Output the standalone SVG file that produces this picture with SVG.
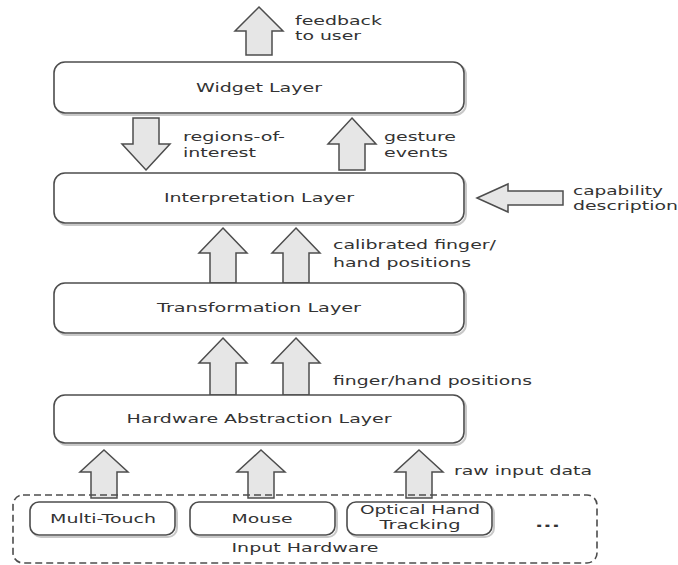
<svg xmlns="http://www.w3.org/2000/svg" width="678" height="565" viewBox="0 0 678 565">
<defs>
<style>
.box{fill:#fff;stroke:#4d4d4d;stroke-width:1.6}
.shadow{fill:none;stroke:#c8c8c8;stroke-width:2}
.dash{fill:none;stroke:#4d4d4d;stroke-width:1.6;stroke-dasharray:7,4}
.arr{fill:#e6e6e6;stroke:#4d4d4d;stroke-width:1.5;stroke-linejoin:miter}
text{font-family:"DejaVu Sans","Liberation Sans",sans-serif;font-size:12.5px;fill:#333}
.c{text-anchor:middle}
</style>
</defs>
<rect width="678" height="565" fill="#fff"/>

<g id="connectors">
<polygon class="arr" points="259,7 283,31 272,31 272,55 246,55 246,31 235,31"/>
<polygon class="arr" points="146,170 170,144 159,144 159,118 133,118 133,144 122,144"/>
<polygon class="arr" points="352,118 376,144 365,144 365,170 339,170 339,144 328,144"/>
<polygon class="arr" points="477,198 508,184 508,191 563,191 563,205 508,205 508,212"/>
<polygon class="arr" points="223,228 247,253 236,253 236,283 210,283 210,253 199,253"/>
<polygon class="arr" points="296,228 320,253 309,253 309,283 283,283 283,253 272,253"/>
<polygon class="arr" points="223,338 247,363 236,363 236,395 210,395 210,363 199,363"/>
<polygon class="arr" points="296,338 320,363 309,363 309,395 283,395 283,363 272,363"/>
<polygon class="arr" points="104,450 128,472 117,472 117,498 91,498 91,472 80,472"/>
<polygon class="arr" points="261,450 285,472 274,472 274,498 248,498 248,472 237,472"/>
<polygon class="arr" points="419,450 443,472 432,472 432,498 406,498 406,472 395,472"/>
<text x="295" y="25" textLength="87" lengthAdjust="spacingAndGlyphs">feedback</text>
<text x="295" y="40" textLength="66" lengthAdjust="spacingAndGlyphs">to user</text>
<text x="183" y="141" textLength="102" lengthAdjust="spacingAndGlyphs">regions-of-</text>
<text x="183" y="157" textLength="73" lengthAdjust="spacingAndGlyphs">interest</text>
<text x="384" y="141" textLength="72" lengthAdjust="spacingAndGlyphs">gesture</text>
<text x="384" y="157" textLength="64" lengthAdjust="spacingAndGlyphs">events</text>
<text x="573" y="195" textLength="90" lengthAdjust="spacingAndGlyphs">capability</text>
<text x="573" y="210" textLength="105" lengthAdjust="spacingAndGlyphs">description</text>
<text x="333" y="249" textLength="163" lengthAdjust="spacingAndGlyphs">calibrated finger/</text>
<text x="333" y="267" textLength="138" lengthAdjust="spacingAndGlyphs">hand positions</text>
<text x="333" y="385" textLength="199" lengthAdjust="spacingAndGlyphs">finger/hand positions</text>
<text x="454" y="475" textLength="138" lengthAdjust="spacingAndGlyphs">raw input data</text>
</g>

<g id="widget-layer">
<rect class="shadow" x="56" y="64" width="410" height="51" rx="11"/>
<rect class="box" x="54" y="62" width="410" height="51" rx="11"/>
<text class="c" x="259" y="92" textLength="126" lengthAdjust="spacingAndGlyphs">Widget Layer</text>
</g>

<g id="interpretation-layer">
<rect class="shadow" x="56" y="175" width="410" height="50" rx="11"/>
<rect class="box" x="54" y="173" width="410" height="50" rx="11"/>
<text class="c" x="259" y="202" textLength="190" lengthAdjust="spacingAndGlyphs">Interpretation Layer</text>
</g>

<g id="transformation-layer">
<rect class="shadow" x="56" y="285" width="410" height="50" rx="11"/>
<rect class="box" x="54" y="283" width="410" height="50" rx="11"/>
<text class="c" x="259" y="312" textLength="204" lengthAdjust="spacingAndGlyphs">Transformation Layer</text>
</g>

<g id="hardware-abstraction-layer">
<rect class="shadow" x="56" y="397" width="410" height="48" rx="11"/>
<rect class="box" x="54" y="395" width="410" height="48" rx="11"/>
<text class="c" x="259" y="423" textLength="265" lengthAdjust="spacingAndGlyphs">Hardware Abstraction Layer</text>
</g>

<g id="input-hardware">
<rect class="dash" x="13" y="495" width="584" height="68" rx="10"/>
<text class="c" x="305" y="552" textLength="147" lengthAdjust="spacingAndGlyphs">Input Hardware</text>
<g id="multi-touch">
<rect class="shadow" x="32" y="504" width="145" height="33" rx="9"/>
<rect class="box" x="30" y="502" width="145" height="33" rx="9"/>
<text class="c" x="103" y="523" textLength="106" lengthAdjust="spacingAndGlyphs">Multi-Touch</text>
</g>
<g id="mouse">
<rect class="shadow" x="192" y="504" width="145" height="33" rx="9"/>
<rect class="box" x="190" y="502" width="145" height="33" rx="9"/>
<text class="c" x="262" y="523" textLength="61" lengthAdjust="spacingAndGlyphs">Mouse</text>
</g>
<g id="optical-hand-tracking">
<rect class="shadow" x="349" y="504" width="145" height="33" rx="9"/>
<rect class="box" x="347" y="502" width="145" height="33" rx="9"/>
<text class="c" x="420" y="514" textLength="120" lengthAdjust="spacingAndGlyphs">Optical Hand</text>
<text class="c" x="420" y="529" textLength="81" lengthAdjust="spacingAndGlyphs">Tracking</text>
</g>
<text x="535" y="527" style="font-weight:bold" textLength="25" lengthAdjust="spacingAndGlyphs">...</text>
</g>
</svg>
